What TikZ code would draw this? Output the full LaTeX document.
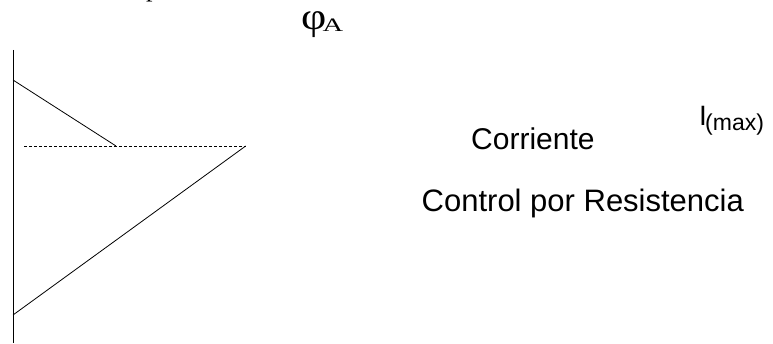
\documentclass[tikz,border=0pt]{standalone}
\usepackage{fontspec}
\setmainfont{Liberation Serif}
\setsansfont{Liberation Sans}
\tikzset{
  ln/.style={line width=0.8pt, black},
  dsh/.style={line width=0.7pt, black, dash pattern=on 3pt off 2pt},
  lbl/.style={inner sep=0pt, anchor=base west, font=\sffamily}
}
\begin{document}
\begin{tikzpicture}[x=1pt,y=1pt]
\useasboundingbox (0,0) rectangle (773,343);
\begin{scope}
\clip (0,0) rectangle (773,343);
\node[inner sep=0pt, anchor=base west, font=\fontsize{26}{28}\selectfont] (ptop) at (146,346.5) {p};
\end{scope}
% phi_A
\node[inner sep=0pt, anchor=base west, font=\fontsize{38}{40}\selectfont] (phi) at (301,313) {\scalebox{1.15}[1]{φ}};
\node[inner sep=0pt, anchor=base west, font=\fontsize{19}{21}\selectfont] (phiA) at (322.5,311) {\scalebox{1.5}[1]{A}};
% axis and lines
\coordinate (vtop) at (13,293);
\coordinate (vbot) at (13,0);
\coordinate (u1) at (13,263);
\coordinate (u2) at (116,197);
\coordinate (d1) at (24,197);
\coordinate (d2) at (245.7,197);
\coordinate (l2) at (13,28);
\draw[ln] (vtop) -- (vbot);
\draw[ln] (u1) -- (u2);
\draw[dsh] (d1) -- (d2);
\draw[ln] (d2) -- (l2);
% texts
\node[lbl, font=\sffamily\fontsize{30}{32}\selectfont] (corr) at (471,193.7) {Corriente};
\node[lbl, font=\sffamily\fontsize{31}{33}\selectfont] (ctrl) at (421.5,131.3) {Control por Resistencia};
\node[lbl, font=\sffamily\fontsize{28}{30}\selectfont] (imax) at (699,217) {I};
\node[lbl, font=\sffamily\fontsize{23}{25}\selectfont] (imaxs) at (705,212) {(max)};
\end{tikzpicture}
\end{document}
